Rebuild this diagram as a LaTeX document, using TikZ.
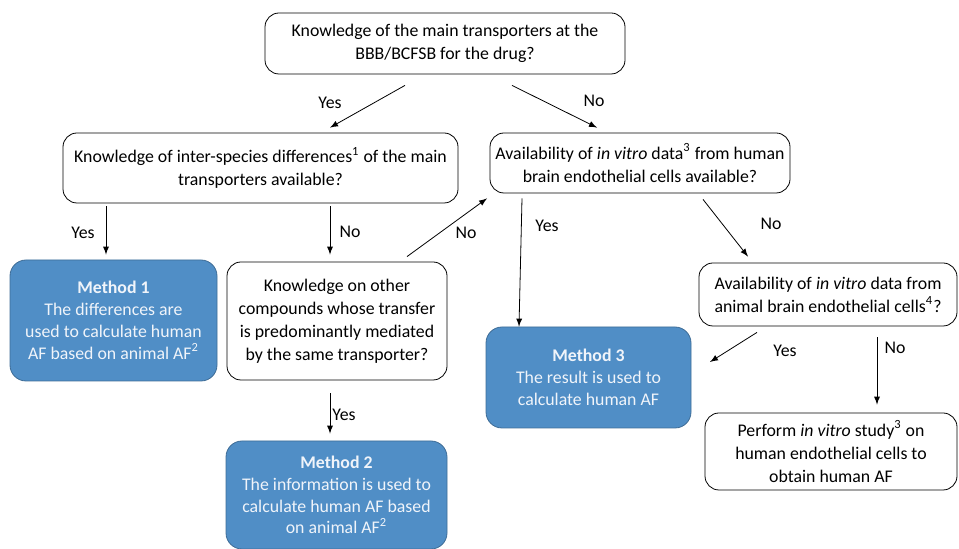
\documentclass[tikz,border=0pt]{standalone}
\usepackage{fontspec}
\setmainfont{Carlito}
\definecolor{methodblue}{RGB}{80,142,198}
\definecolor{methodline}{RGB}{62,108,150}
\definecolor{methodtext}{RGB}{240,244,250}
\begin{document}
\begin{tikzpicture}[x=0.5pt, y=-0.5pt,
    every node/.style={font=\fontsize{8.9}{11.5}\selectfont},
    question/.style={draw, rounded corners=7pt, align=center, inner sep=0pt},
    method/.style={draw=methodline, fill=methodblue, text=methodtext,
      rounded corners=8pt, align=center, inner sep=0pt,
      font=\fontsize{8.9}{10.9}\selectfont},
    arr/.style={-latex, thin}]
  \useasboundingbox (0,0) rectangle (959,549);

  % questions
  \node[question, minimum width=180pt, minimum height=30.5pt] (top) at (445,43.5)
    {Knowledge of the main transporters at the\\BBB/BCFSB for the drug?};
  \node[question, minimum width=197.5pt, minimum height=35pt] (inter) at (260.5,168)
    {Knowledge of inter-species differences\textsuperscript{1} of the main\\transporters available?};
  \node[question, minimum width=150pt, minimum height=30pt] (human) at (640,163)
    {Availability of \textit{in vitro} data\textsuperscript{3} from human\\brain endothelial cells available?};
  \node[question, minimum width=110pt, minimum height=59pt] (other) at (337,321)
    {Knowledge on other\\compounds whose transfer\\is predominantly mediated\\by the same transporter?};
  \node[question, minimum width=129pt, minimum height=31.5pt] (animal) at (828,294.5)
    {Availability of \textit{in vitro} data from\\animal brain endothelial cells\textsuperscript{4}?};
  \node[question, minimum width=126pt, minimum height=38.5pt] (perform) at (831,451.5)
    {Perform \textit{in vitro} study\textsuperscript{3} on\\human endothelial cells to\\obtain human AF};

  % methods
  \node[method, minimum width=103.5pt, minimum height=60.5pt] (m1) at (113.5,320.5)
    {\textbf{Method 1}\\The differences are\\used to calculate human\\AF based on animal AF\textsuperscript{2}};
  \node[method, minimum width=110.5pt, minimum height=54pt] (m2) at (336.5,495)
    {\textbf{Method 2}\\The information is used to\\calculate human AF based\\on animal AF\textsuperscript{2}};
  \node[method, minimum width=102.5pt, minimum height=50.5pt] (m3) at (588.5,377.5)
    {\textbf{Method 3}\\The result is used to\\calculate human AF};

  % connectors
  \draw[arr] ([xshift=-20pt, yshift=-5.5pt]top.south) -- ([xshift=34.75pt, yshift=2.5pt]inter.north);
  \draw[arr] ([xshift=33.5pt, yshift=-5.5pt]top.south) -- ([xshift=-21.5pt, yshift=2.5pt]human.north);
  \draw[arr] ([xshift=-77.25pt, yshift=-1.5pt]inter.south) -- ([xshift=-3.75pt, yshift=2.5pt]m1.north);
  \draw[arr] ([xshift=34.75pt, yshift=-1.5pt]inter.south) -- ([xshift=-3.5pt, yshift=3.5pt]other.north);
  \draw[arr] ([xshift=35pt, yshift=2.5pt]other.north) -- ([xshift=-76.5pt, yshift=-2.5pt]human.south);
  \draw[arr] ([xshift=-59pt, yshift=-2.5pt]human.south) -- ([xshift=-34.75pt]m3.north);
  \draw[arr] ([xshift=31.5pt, yshift=-3pt]human.south) -- ([xshift=-40pt, yshift=3pt]animal.north);
  \coordinate (m3end) at (710,362);
  \draw[arr] ([xshift=-35.5pt, yshift=-3pt]animal.south) -- (m3end);
  \draw[arr] ([xshift=24.5pt, yshift=-5.5pt]animal.south) -- ([xshift=23pt, yshift=4pt]perform.north);
  \draw[arr] ([xshift=-3.5pt, yshift=-6.5pt]other.south) -- ([xshift=-3.25pt, yshift=3.5pt]m2.north);

  % labels
  \node (ltopyes) at (330,103) {Yes};
  \node (ltopno) at (594,101) {No};
  \node (linteryes) at (83,233) {Yes};
  \node (linterno) at (350,232) {No};
  \node (lotherno) at (466,233) {No};
  \node (lhumanyes) at (547,226) {Yes};
  \node (lhumanno) at (771,224) {No};
  \node (lanimalyes) at (785,351) {Yes};
  \node (lanimalno) at (895,348) {No};
  \node (lotheryes) at (344,415) {Yes};
\end{tikzpicture}
\end{document}
